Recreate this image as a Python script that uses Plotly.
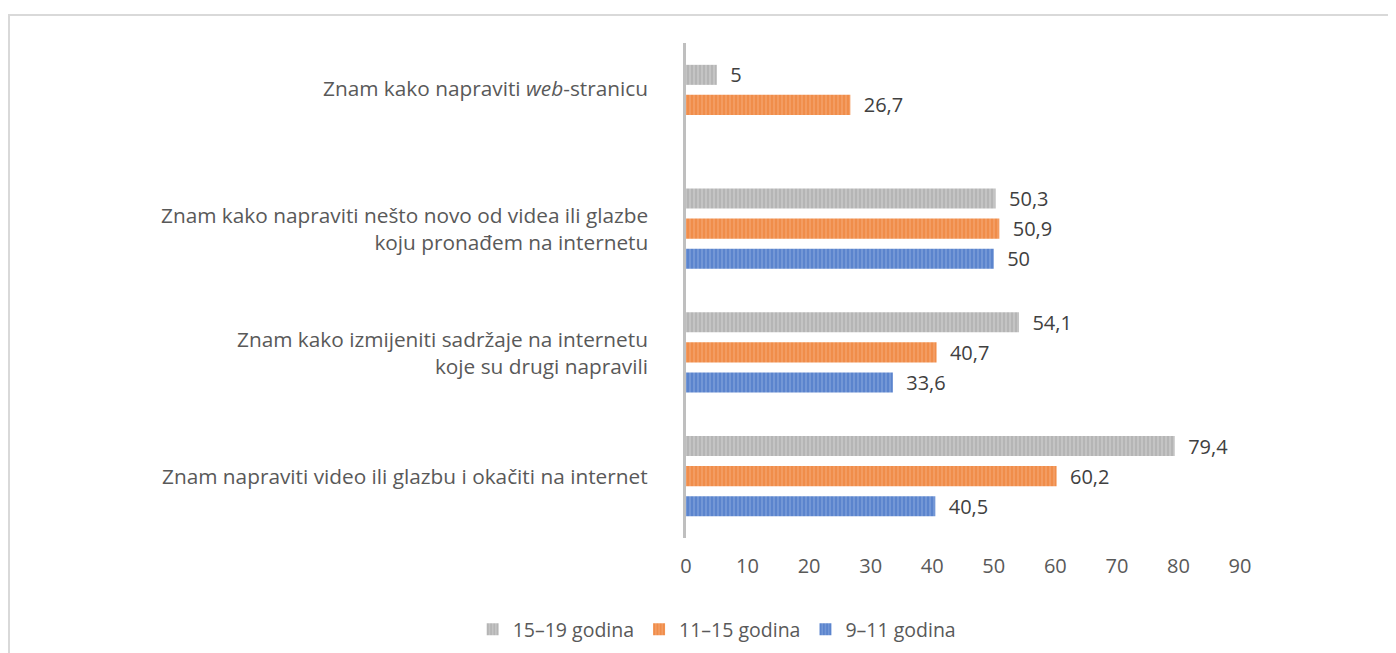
import plotly.graph_objects as go

# categories bottom -> top
categories = [
    "Znam napraviti video ili glazbu i okačiti na internet",
    "Znam kako izmijeniti sadržaje na internetu<br>koje su drugi napravili",
    "Znam kako napraviti nešto novo od videa ili glazbe<br>koju pronađem na internetu",
    "Znam kako napraviti <i>web</i>-stranicu",
]
cat_ids = ["c1", "c2", "c3", "c4"]

series_names = ["9–11 godina", "11–15 godina", "15–19 godina"]
values_9_11 = [40.5, 33.6, 50, None]
values_11_15 = [60.2, 40.7, 50.9, 26.7]
values_15_19 = [79.4, 54.1, 50.3, 5]

x_ticks = [0, 10, 20, 30, 40, 50, 60, 70, 80, 90]

colors = [("#4472C4", "#7397D6"), ("#ED7D31", "#F39C62"), ("#A5A5A5", "#C4C4C4")]
FONT = "Open Sans"


def fmt(v):
    if v is None:
        return ""
    return "\u00a0\u00a0" + ("%g" % v).replace(".", ",")


fig = go.Figure()
for name, vals, (fg, bg) in zip(series_names, [values_9_11, values_11_15, values_15_19], colors):
    fig.add_trace(go.Bar(
        y=cat_ids, x=vals, name=name, orientation="h",
        text=[fmt(v) for v in vals], textposition="outside", constraintext="none",
        textfont=dict(color="#404040", size=20, family=FONT),
        cliponaxis=False,
        marker=dict(color=bg, line=dict(width=0),
                    pattern=dict(shape="|", fgcolor=fg, bgcolor=bg, size=4, solidity=0.5, fillmode="overlay")),
    ))

# category labels
for cid, label in zip(cat_ids, categories):
    fig.add_annotation(
        x=0, y=cid, xref="x", yref="y", text=label, showarrow=False,
        xanchor="right", align="right", xshift=-36,
        yshift=17 if cid == "c4" else 0,
        font=dict(size=20.8, color="#595959", family=FONT),
    )

# chart border
fig.add_shape(type="rect", xref="paper", yref="paper",
              x0=-1.222, x1=1.32, y0=-0.3, y1=1.0566,
              line=dict(color="#D9D9D9", width=2), fillcolor="rgba(0,0,0,0)", layer="below")

fig.update_layout(
    width=1396, height=653,
    margin=dict(l=678, r=164, t=35, b=123),
    paper_bgcolor="white", plot_bgcolor="white",
    barmode="group", bargap=0.272, bargroupgap=0.333,
    font=dict(family=FONT, color="#595959", size=20),
    showlegend=True,
    legend=dict(orientation="h", traceorder="reversed", xref="container", yref="container",
                x=0.508, xanchor="center", y=0.048, yanchor="middle",
                font=dict(size=19.5, color="#595959", family=FONT), itemwidth=30),
    xaxis=dict(range=[0, 90], tickvals=x_ticks, showgrid=False, zeroline=False,
               showline=False, ticks="outside", ticklen=10, tickcolor="rgba(0,0,0,0)",
               tickfont=dict(size=20, color="#595959")),
    yaxis=dict(categoryorder="array", categoryarray=cat_ids, range=[-0.5, 3.5],
               showticklabels=False, showgrid=False, zeroline=False,
               showline=True, linecolor="#BFBFBF", linewidth=3, ticks=""),
)

fig.write_html("out.html")
